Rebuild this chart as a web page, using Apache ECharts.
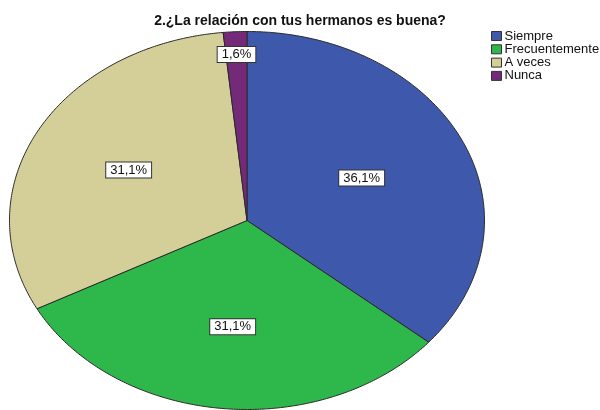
<!DOCTYPE html>
<html><head><meta charset="utf-8">
<script src="https://cdn.jsdelivr.net/npm/echarts@6/dist/echarts.min.js"></script>
<style>html,body{margin:0;padding:0;background:#fff}#c{width:600px;height:410px}</style>
</head><body><div id="c"></div>
<script>
var title = '2.¿La relación con tus hermanos es buena?';
var categories = ['Siempre', 'Frecuentemente', 'A veces', 'Nunca'];
var percents = [36.1, 31.1, 31.1, 1.6];
var colors = ['#3e58ab', '#2eb84b', '#d4cf98', '#742a79'];

var FONT = '"Liberation Sans", Arial, sans-serif';
var total = percents.reduce(function (a, b) { return a + b; }, 0);
var CX = 247, CY = 220.5, RX = 237.5, RY = 189;

function pt(t, r) {
  return [CX + RX * r * Math.sin(t), CY - RY * r * Math.cos(t)];
}

function makeRender(idx) {
  return function (params, api) {
    var start = 0;
    for (var i = 0; i < idx; i++) start += percents[i] / total * Math.PI * 2;
    var span = percents[idx] / total * Math.PI * 2;
    var pts = [[CX, CY]];
    var n = Math.max(4, Math.ceil(span / 0.01));
    for (var k = 0; k <= n; k++) pts.push(pt(start + span * k / n, 1));
    var half = span / 2;
    var r = 2 * Math.sin(half) / (3 * half);
    if (percents[idx] / total < 0.05) r = 0.88;
    var lp = pt(start + half, r);
    var txt = percents[idx].toFixed(1).replace('.', ',') + '%';
    return {
      type: 'group',
      children: [
        { type: 'polygon', shape: { points: pts },
          style: { fill: colors[idx], stroke: '#2a2a2a', lineWidth: 1 } },
        { type: 'text', z2: 100, x: lp[0], y: lp[1],
          style: { text: txt, align: 'center', verticalAlign: 'middle',
            font: '13px ' + FONT, fill: '#111', lineHeight: 13,
            backgroundColor: '#fff', borderColor: '#333', borderWidth: 1,
            padding: [1, 4, 1, 4] } }
      ]
    };
  };
}

var series = categories.map(function (name, i) {
  return {
    type: 'custom', name: name, coordinateSystem: 'none',
    data: [[percents[i]]],
    itemStyle: { color: colors[i] },
    renderItem: makeRender(i),
    silent: true, animation: false
  };
});

var chart = echarts.init(document.getElementById('c'));
chart.setOption({
  backgroundColor: '#fff',
  animation: false,
  title: { text: title, left: 295, textAlign: 'center', top: 9,
    textStyle: { fontFamily: FONT, fontSize: 14, fontWeight: 'bold', color: '#111' } },
  legend: {
    data: categories, orient: 'vertical', left: 491, top: 29.5, padding: 0,
    icon: 'rect', itemWidth: 10, itemHeight: 9, itemGap: 0.3,
    itemStyle: { borderColor: '#333', borderWidth: 1 },
    textStyle: { fontFamily: FONT, fontSize: 13, lineHeight: 13, color: '#111', padding: [0, 0, 0, -2] },
    selectedMode: false
  },
  series: series
});
</script></body></html>
